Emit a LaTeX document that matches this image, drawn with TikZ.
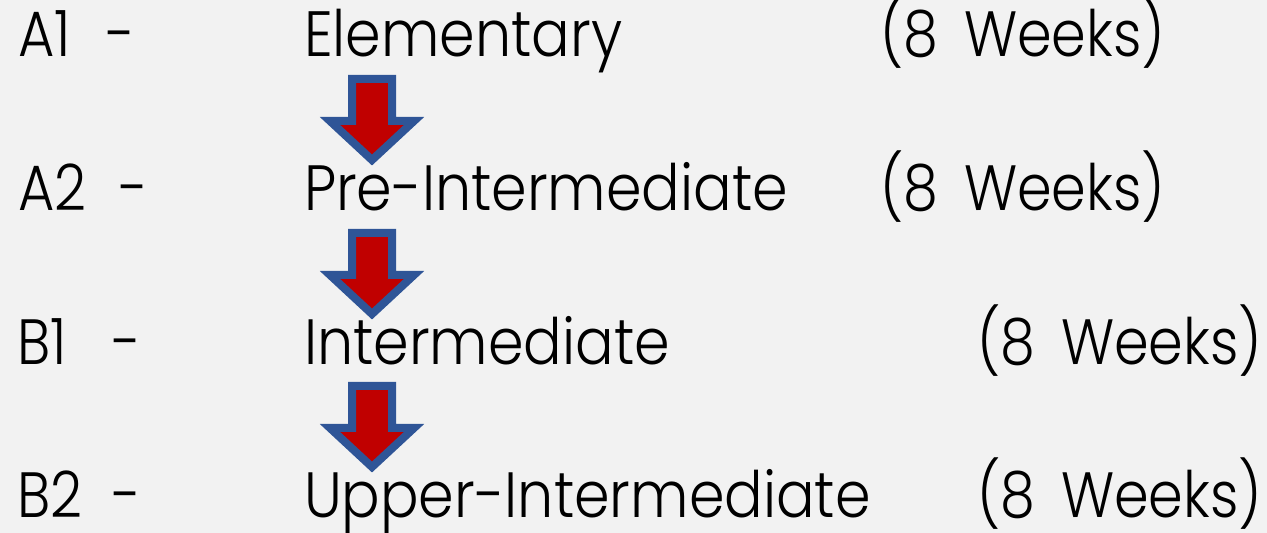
\documentclass[tikz,border=0pt]{standalone}
\usepackage{fontspec}
\setmainfont{Poppins}[UprightFont=* Light, FakeStretch=0.87]
\newfontfamily\lvfont{Poppins}[UprightFont=* Light, FakeStretch=0.893]
\definecolor{bgc}{HTML}{F2F2F2}
\definecolor{arrblue}{HTML}{2F5597}
\definecolor{arrred}{HTML}{C00000}
\tikzset{
  txt/.style={anchor=base west, inner sep=0pt, outer sep=0pt, font=\fontsize{64}{72}\selectfont, text=black},
  lvtxt/.style={txt, font=\fontsize{64}{72}\lvfont},
  blockarrow/.style={draw=arrblue, fill=arrred, line width=8pt, line join=miter},
}
\newcommand\wk{(8\hspace{26pt}Weeks)}
\begin{document}
\begin{tikzpicture}[x=1pt,y=1pt]
\fill[bgc] (0,0) rectangle (1267,533);
\useasboundingbox (0,0) rectangle (1267,533);
% row 1
\node[txt] (l1) at (18,476) {A1};
\node[txt] (d1) at (106,476) {-};
\node[lvtxt] (v1) at (304,476) {Elementary};
\node[txt] (w1) at (880,476) {\wk};
% row 2
\node[txt] (l2) at (18,322) {A2};
\node[txt] (d2) at (119,322) {-};
\node[lvtxt] (v2) at (304,322) {Pre-Intermediate};
\node[txt] (w2) at (880,322) {\wk};
% row 3
\node[txt] (l3) at (17,168) {B1};
\node[txt] (d3) at (112,168) {-};
\node[lvtxt] (v3) at (304,168) {Intermediate};
\node[txt] (w3) at (977,168) {\wk};
% row 4
\node[txt] (l4) at (17,15) {B2};
\node[txt] (d4) at (112,15) {-};
\node[lvtxt] (v4) at (304,15) {Upper-Intermediate};
\node[txt] (w4) at (977,15) {\wk};
% arrows
\foreach \yy in {454,300,147}{
  \begin{scope}[shift={(372,\yy)}]
    \path[blockarrow] (-20,0) -- (20,0) -- (20,-42) -- (42,-42) -- (0,-81) -- (-42,-42) -- (-20,-42) -- cycle;
  \end{scope}
}
\end{tikzpicture}
\end{document}
